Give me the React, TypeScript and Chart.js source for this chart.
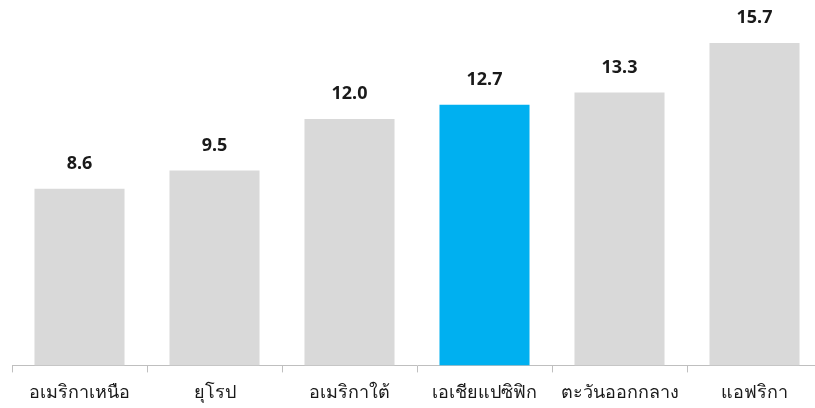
import React, { useEffect, useRef } from "react";
import { Chart, registerables } from "chart.js";

Chart.register(...registerables);

const categories = ["อเมริกาเหนือ", "ยุโรป", "อเมริกาใต้", "เอเชียแปซิฟิก", "ตะวันออกกลาง", "แอฟริกา"];
const values = [8.6, 9.5, 12.0, 12.7, 13.3, 15.7];
const barColors = ["#d9d9d9", "#d9d9d9", "#d9d9d9", "#00b0f0", "#d9d9d9", "#d9d9d9"];

const FONT = "Tahoma, 'Noto Sans', 'DejaVu Sans', sans-serif";

const valueLabels = {
  id: "valueLabels",
  afterDatasetsDraw(chart: any) {
    const { ctx } = chart;
    const meta = chart.getDatasetMeta(0);
    ctx.save();
    ctx.font = `bold 18px ${FONT}`;
    ctx.fillStyle = "#1a1a1a";
    ctx.textAlign = "center";
    ctx.textBaseline = "middle";
    meta.data.forEach((bar: any, i: number) => {
      ctx.fillText(values[i].toFixed(1), bar.x, bar.y - 25);
    });
    ctx.restore();
  },
};

export default function App() {
  const ref = useRef<HTMLCanvasElement>(null);
  useEffect(() => {
    if (!ref.current) return;
    const chart = new Chart(ref.current, {
      type: "bar",
      data: {
        labels: categories,
        datasets: [
          {
            data: values,
            backgroundColor: barColors,
            barPercentage: 0.667,
            categoryPercentage: 1,
          },
        ],
      },
      options: {
        animation: false,
        responsive: true,
        maintainAspectRatio: false,
        layout: { padding: { left: 12, right: 0, top: 0, bottom: -6 } },
        plugins: { legend: { display: false }, tooltip: { enabled: false } },
        scales: {
          x: {
            offset: true,
            grid: {
              offset: true,
              drawOnChartArea: false,
              drawTicks: true,
              tickLength: 7,
              color: "#bfbfbf",
            },
            border: { display: true, color: "#bfbfbf", width: 1 },
            ticks: {
              color: "#1a1a1a",
              font: { family: FONT, size: 18 },
              padding: 10,
              maxRotation: 0,
              autoSkip: false,
            },
          },
          y: {
            display: false,
            min: 0,
            max: 17.8,
          },
        },
      },
      plugins: [valueLabels],
    });
    return () => chart.destroy();
  }, []);
  return (
    <div style={{ position: "fixed", left: 0, top: 0, width: 815, height: 408, overflow: "hidden", background: "#fff" }}>
      <div style={{ position: "absolute", left: 0, top: 0, width: 822, height: 408 }}>
        <canvas ref={ref} />
      </div>
    </div>
  );
}
